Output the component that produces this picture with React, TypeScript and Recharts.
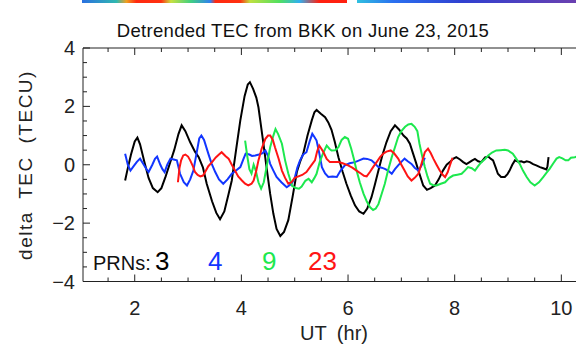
import React from 'react';
import { LineChart, Line, XAxis, YAxis } from 'recharts';

// PRN 3 (black)
const prn3Time = [1.82, 1.86, 1.93, 2.0, 2.05, 2.1, 2.18, 2.26, 2.34, 2.43, 2.5, 2.58, 2.66, 2.74, 2.82, 2.88, 2.95, 3.04, 3.13, 3.2, 3.28, 3.35, 3.45, 3.53, 3.6, 3.68, 3.76, 3.82, 3.9, 3.98, 4.06, 4.12, 4.16, 4.22, 4.28, 4.32, 4.4, 4.48, 4.54, 4.6, 4.66, 4.73, 4.8, 4.88, 4.96, 5.04, 5.1, 5.16, 5.24, 5.32, 5.37, 5.41, 5.49, 5.57, 5.63, 5.69, 5.75, 5.82, 5.9, 5.97, 6.05, 6.13, 6.21, 6.29, 6.36, 6.44, 6.5, 6.57, 6.64, 6.72, 6.8, 6.88, 6.96, 7.04, 7.1, 7.16, 7.22, 7.27, 7.32, 7.41, 7.48, 7.55, 7.63, 7.7, 7.78, 7.85, 7.91, 7.97, 8.03, 8.1, 8.16, 8.22, 8.28, 8.33, 8.38, 8.44, 8.5, 8.57, 8.63, 8.68, 8.72, 8.77, 8.81, 8.87, 8.94, 8.99, 9.03, 9.08, 9.13, 9.19, 9.25, 9.3, 9.35, 9.41, 9.47, 9.53, 9.6, 9.66, 9.72, 9.74, 9.76];
const prn3Tec = [-0.54, -0.2, 0.35, 0.8, 0.93, 0.7, 0.1, -0.45, -0.8, -0.94, -0.8, -0.4, 0.05, 0.5, 1.05, 1.35, 1.15, 0.77, 0.45, 0.26, -0.1, -0.65, -1.25, -1.65, -1.87, -1.6, -1.0, -0.54, 0.5, 1.52, 2.35, 2.75, 2.83, 2.6, 2.3, 1.97, 0.9, -0.2, -1.0, -1.68, -2.2, -2.44, -2.3, -1.9, -1.1, -0.25, 0.1, 0.38, 1.0, 1.52, 1.8, 1.88, 1.75, 1.63, 1.45, 1.2, 0.8, 0.26, -0.25, -0.65, -1.05, -1.39, -1.6, -1.68, -1.5, -1.11, -0.7, -0.2, 0.3, 0.77, 1.15, 1.35, 1.2, 1.0, 0.9, 0.72, 0.38, 0.1, -0.2, -0.71, -0.86, -0.8, -0.71, -0.5, -0.2, 0.0, 0.09, 0.2, 0.26, 0.18, 0.09, 0.02, 0.09, 0.15, 0.2, 0.12, 0.09, 0.25, 0.28, 0.2, 0.15, -0.1, -0.31, -0.42, -0.42, -0.32, -0.2, 0.0, 0.15, 0.1, 0.12, 0.08, 0.12, 0.09, 0.02, -0.02, -0.08, -0.12, -0.16, -0.05, 0.26];

// PRN 4 (blue)
const prn4Time = [1.82, 1.87, 1.92, 1.98, 2.04, 2.1, 2.17, 2.22, 2.26, 2.33, 2.38, 2.42, 2.48, 2.52, 2.56, 2.61, 2.67, 2.73, 2.79, 2.85, 2.92, 2.98, 3.04, 3.1, 3.16, 3.21, 3.25, 3.3, 3.38, 3.44, 3.51, 3.58, 3.66, 3.74, 3.82, 3.9, 3.98, 4.04, 4.08, 4.15, 4.2, 4.26, 4.33, 4.4, 4.45, 4.5, 4.54, 4.6, 4.66, 4.75, 4.85, 4.94, 5.0, 5.05, 5.1, 5.16, 5.22, 5.28, 5.33, 5.37, 5.41, 5.46, 5.51, 5.57, 5.63, 5.71, 5.79, 5.86, 5.94, 6.03, 6.13, 6.21, 6.29, 6.36, 6.44, 6.5, 6.57, 6.63, 6.69, 6.75, 6.82, 6.88, 6.94, 7.0, 7.06, 7.12, 7.19, 7.25, 7.32, 7.37, 7.41, 7.44];
const prn4Tec = [0.38, 0.0, -0.2, -0.05, 0.1, 0.21, 0.0, -0.15, -0.25, 0.0, 0.2, 0.28, 0.0, -0.15, -0.25, 0.0, 0.21, 0.18, 0.15, -0.31, -0.6, -0.71, -0.5, -0.2, 0.4, 0.9, 1.0, 0.85, 0.38, 0.05, -0.25, -0.5, -0.65, -0.5, -0.31, -0.2, -0.08, 0.2, 0.38, 0.35, 0.3, 0.32, 0.35, 0.4, 0.49, 0.3, 0.03, -0.2, -0.42, -0.6, -0.77, -0.65, -0.45, -0.1, 0.15, 0.35, 0.43, 0.8, 1.06, 0.95, 0.83, 0.4, -0.08, -0.3, -0.42, -0.4, -0.42, -0.2, -0.02, 0.05, 0.09, 0.15, 0.21, 0.2, 0.15, 0.05, -0.08, -0.1, -0.14, -0.2, -0.31, -0.15, -0.02, 0.1, 0.21, 0.12, 0.03, -0.1, -0.2, -0.05, 0.09, 0.24];

// PRN 9 (green)
const prn9Time = [4.07, 4.11, 4.15, 4.19, 4.23, 4.27, 4.32, 4.37, 4.42, 4.48, 4.54, 4.6, 4.64, 4.69, 4.76, 4.82, 4.88, 4.95, 5.02, 5.08, 5.13, 5.2, 5.26, 5.32, 5.37, 5.41, 5.47, 5.54, 5.6, 5.65, 5.69, 5.76, 5.82, 5.88, 5.94, 6.0, 6.06, 6.11, 6.16, 6.22, 6.29, 6.35, 6.41, 6.47, 6.52, 6.57, 6.63, 6.69, 6.75, 6.82, 6.88, 6.94, 7.0, 7.07, 7.13, 7.19, 7.25, 7.3, 7.34, 7.39, 7.44, 7.49, 7.54, 7.6, 7.66, 7.74, 7.82, 7.9, 7.97, 8.05, 8.13, 8.19, 8.25, 8.32, 8.38, 8.44, 8.5, 8.57, 8.63, 8.7, 8.78, 8.86, 8.94, 9.0, 9.09, 9.15, 9.22, 9.28, 9.35, 9.42, 9.5, 9.58, 9.66, 9.72, 9.78, 9.85, 9.91, 9.96, 10.02, 10.08, 10.13, 10.18, 10.25, 10.35];
const prn9Tec = [0.83, 0.3, -0.15, -0.3, 0.0, -0.2, -0.6, -0.82, -0.6, 0.0, 0.6, 1.0, 1.22, 1.05, 0.72, 0.15, -0.3, -0.72, -0.8, -0.82, -0.75, -0.55, -0.48, -0.6, -0.45, -0.31, 0.1, 0.43, 0.66, 0.55, 0.49, 0.5, 0.6, 0.85, 0.95, 0.89, 0.55, 0.2, -0.2, -0.6, -0.99, -1.25, -1.45, -1.55, -1.5, -1.35, -1.0, -0.65, -0.2, 0.26, 0.6, 0.95, 1.15, 1.3, 1.38, 1.4, 1.3, 1.15, 0.72, 0.3, -0.08, -0.4, -0.65, -0.7, -0.71, -0.65, -0.6, -0.45, -0.37, -0.34, -0.31, -0.2, -0.08, -0.12, -0.2, -0.05, 0.09, 0.2, 0.32, 0.42, 0.49, 0.5, 0.51, 0.49, 0.38, 0.22, 0.03, -0.2, -0.42, -0.6, -0.71, -0.6, -0.42, -0.28, -0.14, 0.05, 0.21, 0.26, 0.22, 0.15, 0.15, 0.24, 0.26, 0.3];

// PRN 23 (red)
const prn23Time = [2.81, 2.84, 2.87, 2.91, 2.95, 3.0, 3.04, 3.09, 3.13, 3.18, 3.23, 3.28, 3.32, 3.38, 3.45, 3.52, 3.58, 3.63, 3.7, 3.76, 3.82, 3.88, 3.94, 4.01, 4.07, 4.13, 4.19, 4.23, 4.28, 4.32, 4.38, 4.45, 4.5, 4.54, 4.59, 4.63, 4.7, 4.76, 4.82, 4.88, 4.94, 5.0, 5.07, 5.14, 5.22, 5.3, 5.38, 5.42, 5.46, 5.5, 5.54, 5.6, 5.66, 5.74, 5.82, 5.9, 6.0, 6.08, 6.16, 6.24, 6.3, 6.35, 6.41, 6.47, 6.54, 6.6, 6.66, 6.72, 6.8, 6.86, 6.94, 7.0, 7.06, 7.12, 7.19, 7.25, 7.32, 7.38, 7.44, 7.5, 7.55, 7.6, 7.66, 7.72, 7.78, 7.82, 7.87, 7.91, 7.96];
const prn23Tec = [-0.6, -0.1, 0.15, 0.32, 0.35, 0.28, 0.15, -0.05, -0.25, -0.35, -0.4, -0.37, -0.25, -0.05, 0.09, 0.25, 0.35, 0.43, 0.3, 0.21, 0.0, -0.2, -0.4, -0.54, -0.65, -0.71, -0.65, -0.54, -0.2, 0.15, 0.55, 0.89, 1.0, 1.0, 0.85, 0.6, 0.2, -0.2, -0.45, -0.65, -0.6, -0.45, -0.4, -0.35, -0.25, -0.05, 0.15, 0.45, 0.66, 0.55, 0.43, 0.2, 0.09, 0.09, 0.09, 0.05, -0.02, -0.1, -0.2, -0.3, -0.38, -0.4, -0.25, -0.08, 0.1, 0.26, 0.38, 0.45, 0.49, 0.4, 0.21, 0.0, -0.2, -0.4, -0.54, -0.45, -0.31, 0.05, 0.43, 0.55, 0.4, 0.21, 0.0, -0.2, -0.35, -0.42, -0.25, -0.02, 0.24];

const xTicks = [1.5, 2, 2.5, 3, 3.5, 4, 4.5, 5, 5.5, 6, 6.5, 7, 7.5, 8, 8.5, 9, 9.5, 10, 10.5];
const xLabelTicks = [2, 4, 6, 8, 10];
const yTicks = [-4, -3.5, -3, -2.5, -2, -1.5, -1, -0.5, 0, 0.5, 1, 1.5, 2, 2.5, 3, 3.5, 4];
const yLabelTicks = [-4, -2, 0, 2, 4];

const title = 'Detrended TEC from BKK on June 23, 2015';
const xTitle = 'UT (hr)';
const yTitle = 'delta TEC (TECU)';
const legendTitle = 'PRNs:';
const seriesNames = ['3', '4', '9', '23'];
const seriesColors = ['#000000', '#1236ff', '#1de84e', '#ff1414'];

const FONT = '"Liberation Sans", Arial, Helvetica, sans-serif';
const AXIS = '#222';

const rows = (t: number[], v: number[]) => t.map((x, i) => ({ t: x, v: v[i] }));
const series = [
  rows(prn3Time, prn3Tec),
  rows(prn4Time, prn4Tec),
  rows(prn9Time, prn9Tec),
  rows(prn23Time, prn23Tec),
];

const fmt = (n: number) => (n < 0 ? '\u2212' + Math.abs(n) : String(n));

const BottomTick = (props: any) => {
  const { x, y, payload } = props;
  const major = xLabelTicks.includes(payload.value);
  return (
    <g>
      <line x1={x} x2={x} y1={y} y2={y - (major ? 7 : 4)} stroke={AXIS} strokeWidth={1} />
      {major && (
        <text x={x} y={y + 33.5} textAnchor="middle" fontSize={20} fontFamily={FONT} fill="#222">
          {fmt(payload.value)}
        </text>
      )}
    </g>
  );
};

const TopTick = (props: any) => {
  const { x, y, payload } = props;
  const major = xLabelTicks.includes(payload.value);
  return <line x1={x} x2={x} y1={y} y2={y + (major ? 7 : 4)} stroke={AXIS} strokeWidth={1} />;
};

const LeftTick = (props: any) => {
  const { x, y, payload } = props;
  const major = yLabelTicks.includes(payload.value);
  return (
    <g>
      <line x1={x} x2={x + (major ? 7 : 4)} y1={y} y2={y} stroke={AXIS} strokeWidth={1} />
      {major && (
        <text x={x - 8} y={y + 7} textAnchor="end" fontSize={20} fontFamily={FONT} fill="#222">
          {fmt(payload.value)}
        </text>
      )}
    </g>
  );
};

const legendX = [155, 208, 262, 308];

export default function App() {
  return (
    <div style={{ position: 'absolute', left: 0, top: 0, width: 576, height: 348, overflow: 'hidden', background: '#fff' }}>
      <LineChart
        width={600}
        height={348}
        margin={{ top: 38, right: 12, bottom: 26.5, left: 23 }}
      >
        <XAxis
          xAxisId="b"
          dataKey="t"
          type="number"
          domain={[1.03, 10.5]}
          ticks={xTicks}
          interval={0}
          height={40}
          tickSize={0}
          tickMargin={0}
          tickLine={false}
          tick={BottomTick}
          axisLine={{ stroke: AXIS, strokeWidth: 1 }}
          allowDataOverflow
        />
        <XAxis
          xAxisId="t"
          orientation="top"
          dataKey="t"
          type="number"
          domain={[1.03, 10.5]}
          ticks={xTicks}
          interval={0}
          height={10}
          tickSize={0}
          tickMargin={0}
          tickLine={false}
          tick={TopTick}
          axisLine={{ stroke: AXIS, strokeWidth: 1 }}
          allowDataOverflow
        />
        <YAxis
          yAxisId="l"
          type="number"
          domain={[-4, 4]}
          ticks={yTicks}
          interval={0}
          width={60}
          tickSize={0}
          tickMargin={0}
          tickLine={false}
          tick={LeftTick}
          axisLine={{ stroke: AXIS, strokeWidth: 1 }}
          allowDataOverflow
        />
        {series.map((d, i) => (
          <Line
            key={seriesNames[i]}
            data={d}
            dataKey="v"
            xAxisId="b"
            yAxisId="l"
            type="linear"
            stroke={seriesColors[i]}
            strokeWidth={2}
            dot={false}
            activeDot={false}
            isAnimationActive={false}
          />
        ))}
      </LineChart>
      <svg
        width={576}
        height={348}
        style={{ position: 'absolute', left: 0, top: 0, pointerEvents: 'none' }}
      >
        <defs>
          <linearGradient id="strip" x1="0" x2="1" y1="0" y2="0">
            <stop offset="0" stopColor="#2a70e0" />
            <stop offset="0.07" stopColor="#30b8b0" />
            <stop offset="0.09" stopColor="#f0a020" />
            <stop offset="0.11" stopColor="#ff2a10" />
            <stop offset="0.16" stopColor="#ff3010" />
            <stop offset="0.18" stopColor="#c8e040" />
            <stop offset="0.22" stopColor="#40d080" />
            <stop offset="0.26" stopColor="#3080f0" />
            <stop offset="0.27" stopColor="#ff2a10" />
            <stop offset="0.32" stopColor="#ff3010" />
            <stop offset="0.34" stopColor="#c0e040" />
            <stop offset="0.40" stopColor="#50e060" />
            <stop offset="0.44" stopColor="#30b0f0" />
            <stop offset="0.48" stopColor="#ff2010" />
            <stop offset="0.536" stopColor="#ff2010" />
            <stop offset="0.537" stopColor="#ffffff" />
            <stop offset="0.556" stopColor="#ffffff" />
            <stop offset="0.557" stopColor="#30c0e0" />
            <stop offset="0.63" stopColor="#2a70f0" />
            <stop offset="0.77" stopColor="#3040d0" />
            <stop offset="1" stopColor="#6a40b0" />
          </linearGradient>
        </defs>
        <rect x={82} y={0} width={494} height={3} fill="url(#strip)" />
        <text x={303} y={36.7} textAnchor="middle" fontSize={18.5} fontFamily={FONT} fill="#111" letterSpacing={0.3}>
          {title}
        </text>
        <text
          transform="translate(32,165) rotate(-90)"
          textAnchor="middle"
          fontSize={19}
          fontFamily={FONT}
          fill="#222"
          letterSpacing={1.5}
          wordSpacing={6}
        >
          {yTitle}
        </text>
        <text x={334} y={340} textAnchor="middle" fontSize={20} fontFamily={FONT} fill="#222" wordSpacing={5}>
          {xTitle}
        </text>
        <text x={93} y={270} fontSize={20} fontFamily={FONT} fill="#111">
          {legendTitle}
        </text>
        {seriesNames.map((n, i) => (
          <text key={n} x={legendX[i]} y={270} fontSize={26} fontFamily={FONT} fill={seriesColors[i]}>
            {n}
          </text>
        ))}
      </svg>
    </div>
  );
}
